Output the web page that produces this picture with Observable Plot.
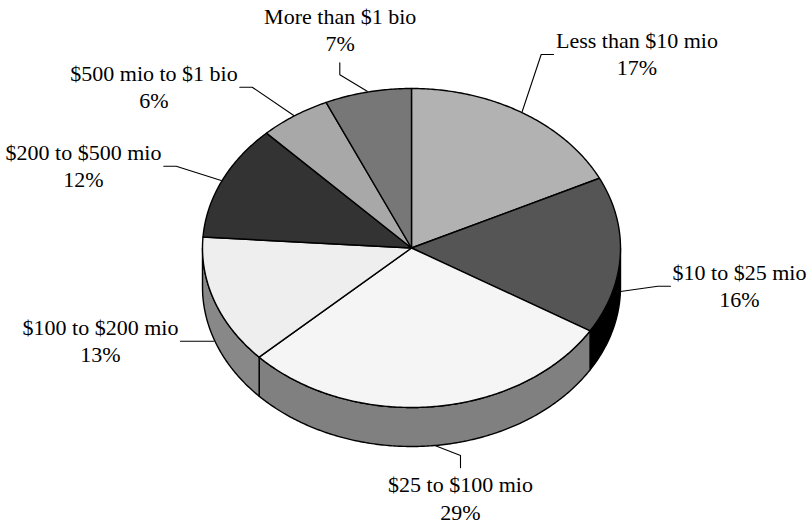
<!DOCTYPE html>
<html>
<head>
<meta charset="utf-8">
<style>html,body{margin:0;padding:0;background:#fff}svg{display:block}</style>
<script src="https://cdn.jsdelivr.net/npm/d3@7"></script>
<script src="https://cdn.jsdelivr.net/npm/@observablehq/plot@0.6"></script>
</head>
<body>
<div id="chart"></div>
<script>
// Data
const categories = ["Less than $10 mio","$10 to $25 mio","$25 to $100 mio","$100 to $200 mio","$200 to $500 mio","$500 mio to $1 bio","More than $1 bio"];
const percentLabels = ["17%","16%","29%","13%","12%","6%","7%"];
const drawnShares = [17.8,15.9,29.3,13.1,11.7,5.5,6.7];
// Styles
const topColors = ["#b2b2b2","#555555","#f5f5f5","#eeeeee","#333333","#a8a8a8","#777777"];
const sideColors = ["#595959","#000000","#808080","#888888","#222222","#707070","#505050"];
// Layout (picture units)
const pie = {cx:411, cy:247.5, rx:209, ry:159.5, depth:39};
const labelCenters = [[636.5,55],[739,287],[460,499.5],[100,342],[83,167],[153.5,88],[339.7,31]];
const leaders = [
  [[521.7,111],[540.7,54],[553,54]],
  [[620,291],[657.3,285.7],[670,285.7]],
  [[435,445.3],[460,455],[460,467.3]],
  [[213.3,340.7],[192.7,340.7],[180,340.7]],
  [[220.7,180],[175.7,165.7],[163.3,165.7]],
  [[293.3,115],[251.7,86.7],[239.3,86.7]],
  [[366.7,90.7],[339.3,74.3],[339.3,62.3]]
];

const total = d3.sum(drawnShares);
const cum = d3.cumsum(drawnShares);
const arcs = categories.map((name,i)=>({name,i,
  a0:(i?cum[i-1]:0)/total*2*Math.PI, a1:cum[i]/total*2*Math.PI}));
const pt = (a,dz=0)=>({x:pie.cx+pie.rx*Math.sin(a), y:pie.cy-pie.ry*Math.cos(a)+dz});
const arcPts = (a0,a1,dz=0)=>{
  const n=Math.max(2,Math.ceil((a1-a0)/0.01));
  return d3.range(n+1).map(k=>pt(a0+(a1-a0)*k/n,dz));
};
const stroke = {x:"x",y:"y",stroke:"#000",strokeWidth:1.4,strokeLinejoin:"round",curve:"linear"};

const marks=[];
// visible wall of each slice (front half of the disc)
arcs.forEach(s=>{
  const a0=Math.max(s.a0,Math.PI/2), a1=Math.min(s.a1,3*Math.PI/2);
  if(a1<=a0) return;
  const top=arcPts(a0,a1), bot=arcPts(a0,a1,pie.depth).reverse();
  const poly=[...top,...bot,top[0]];
  marks.push(Plot.line(poly,{...stroke,fill:sideColors[s.i]}));
});
// top faces
arcs.forEach(s=>{
  const c={x:pie.cx,y:pie.cy};
  const poly=[c,...arcPts(s.a0,s.a1),c];
  marks.push(Plot.line(poly,{...stroke,fill:topColors[s.i]}));
});
// leader lines
leaders.forEach(l=>{
  marks.push(Plot.line(l.map(([x,y])=>({x,y})),{x:"x",y:"y",stroke:"#000",strokeWidth:1.1,curve:"linear"}));
});
// labels
const labelRows = categories.map((c,i)=>({text:c+"\n"+percentLabels[i],x:labelCenters[i][0],y:labelCenters[i][1]}));
marks.push(Plot.text(labelRows,{x:"x",y:"y",dy:-3,text:"text",fontSize:22,lineHeight:1.25,
  fontFamily:"'Liberation Serif',serif",fill:"#000",textAnchor:"middle",lineAnchor:"middle"}));

const chart=Plot.plot({
  width:808,height:522,margin:0,
  style:{background:"#fff"},
  x:{domain:[0,808],range:[0,808],axis:null},
  y:{domain:[0,522],range:[0,522],axis:null},
  marks
});
document.getElementById("chart").append(chart);
</script>
</body>
</html>
